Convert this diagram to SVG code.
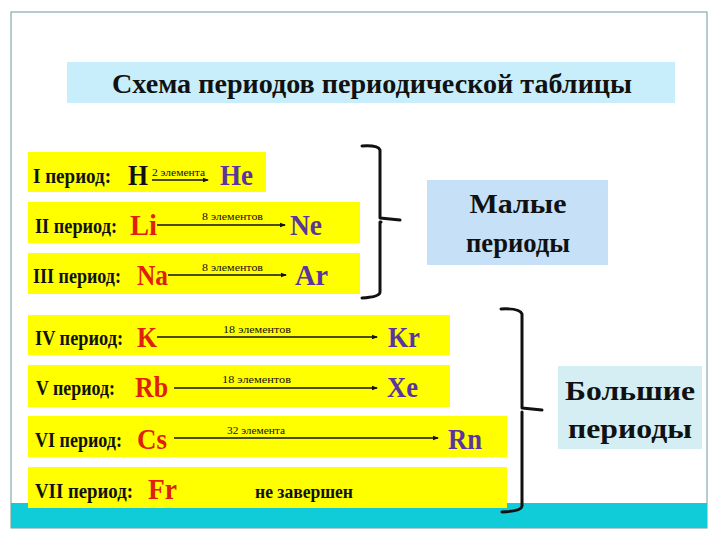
<svg xmlns="http://www.w3.org/2000/svg" width="720" height="540" viewBox="0 0 720 540">
<defs>
<style>
.t{font-family:"Liberation Serif","Times New Roman",serif;font-weight:bold}
.row{fill:#ffff00}
.lbl{font-size:20px;fill:#111}
.sym{font-size:30px}
.red{fill:#e0200e}
.pur{fill:#5a34a0}
.blk{fill:#111}
.sm{font-size:10px;fill:#111;font-weight:normal}
.ln{stroke:#111;stroke-width:1.5;fill:none}
.br{stroke:#111;stroke-width:3;fill:none;stroke-linecap:round;stroke-linejoin:round}
.box{font-size:28px;fill:#111}
</style>
<marker id="ah" markerWidth="6" markerHeight="6" refX="5" refY="3" orient="auto" markerUnits="userSpaceOnUse">
<path d="M0,0.8 L6,3 L0,5.2 Z" fill="#111"/>
</marker>
</defs>
<rect x="0" y="0" width="720" height="540" fill="#ffffff"/>
<rect x="11" y="12" width="696" height="516" fill="#ffffff" stroke="#6f9a9a" stroke-width="1"/>
<rect id="teal" x="11" y="503" width="696" height="25" fill="#10ccd8"/>

<g id="title">
<rect x="67" y="62" width="608" height="41" fill="#c8eefb"/>
<text class="t" x="112" y="93" font-size="28" fill="#111" textLength="520" lengthAdjust="spacingAndGlyphs">Схема периодов периодической таблицы</text>
</g>

<g id="period1">
<rect class="row" x="28" y="152" width="238" height="40"/>
<text class="t lbl" x="33" y="183" textLength="78" lengthAdjust="spacingAndGlyphs">I период:</text>
<text class="t sym blk" x="128" y="185" textLength="20" lengthAdjust="spacingAndGlyphs">H</text>
<text class="t sm" x="152" y="176" textLength="53" lengthAdjust="spacingAndGlyphs">2 элемента</text>
<text class="t sym pur" x="220" y="185" textLength="33" lengthAdjust="spacingAndGlyphs">He</text>
</g>

<g id="period2">
<rect class="row" x="28" y="202" width="332" height="41"/>
<text class="t lbl" x="35" y="233" textLength="82" lengthAdjust="spacingAndGlyphs">II период:</text>
<text class="t sym red" x="130" y="235" textLength="27" lengthAdjust="spacingAndGlyphs">Li</text>
<text class="t sm" x="202" y="220" textLength="61" lengthAdjust="spacingAndGlyphs">8 элементов</text>
<text class="t sym pur" x="290" y="235" textLength="32" lengthAdjust="spacingAndGlyphs">Ne</text>
</g>

<g id="period3">
<rect class="row" x="28" y="253" width="332" height="41"/>
<text class="t lbl" x="33" y="283" textLength="88" lengthAdjust="spacingAndGlyphs">III период:</text>
<text class="t sym red" x="137" y="285" textLength="31" lengthAdjust="spacingAndGlyphs">Na</text>
<text class="t sm" x="202" y="271" textLength="61" lengthAdjust="spacingAndGlyphs">8 элементов</text>
<text class="t sym pur" x="295" y="285" textLength="33" lengthAdjust="spacingAndGlyphs">Ar</text>
</g>

<g id="small-periods">
<rect x="427" y="180" width="181" height="85" fill="#c6e0f8"/>
<text class="t box" x="518" y="213" text-anchor="middle" textLength="97" lengthAdjust="spacingAndGlyphs">Малые</text>
<text class="t box" x="518" y="252" text-anchor="middle" textLength="104" lengthAdjust="spacingAndGlyphs">периоды</text>
</g>

<g id="period4">
<rect class="row" x="28" y="315" width="422" height="40"/>
<text class="t lbl" x="35" y="345" textLength="88" lengthAdjust="spacingAndGlyphs">IV период:</text>
<text class="t sym red" x="137" y="347" textLength="20" lengthAdjust="spacingAndGlyphs">K</text>
<text class="t sm" x="223" y="333" textLength="68" lengthAdjust="spacingAndGlyphs">18  элементов</text>
<text class="t sym pur" x="388" y="347" textLength="32" lengthAdjust="spacingAndGlyphs">Kr</text>
</g>

<g id="period5">
<rect class="row" x="28" y="365" width="422" height="42"/>
<text class="t lbl" x="36" y="395" textLength="79" lengthAdjust="spacingAndGlyphs">V период:</text>
<text class="t sym red" x="135" y="397" textLength="33" lengthAdjust="spacingAndGlyphs">Rb</text>
<text class="t sm" x="222" y="383" textLength="69" lengthAdjust="spacingAndGlyphs">18  элементов</text>
<text class="t sym pur" x="387" y="397" textLength="31" lengthAdjust="spacingAndGlyphs">Xe</text>
</g>

<g id="period6">
<rect class="row" x="28" y="416" width="479" height="41"/>
<text class="t lbl" x="35" y="447" textLength="87" lengthAdjust="spacingAndGlyphs">VI период:</text>
<text class="t sym red" x="137" y="449" textLength="30" lengthAdjust="spacingAndGlyphs">Cs</text>
<text class="t sm" x="227" y="434" textLength="58" lengthAdjust="spacingAndGlyphs">32 элемента</text>
<text class="t sym pur" x="448" y="449" textLength="34" lengthAdjust="spacingAndGlyphs">Rn</text>
</g>

<g id="period7">
<rect class="row" x="28" y="467" width="479" height="41"/>
<text class="t lbl" x="35" y="498" textLength="98" lengthAdjust="spacingAndGlyphs">VII  период:</text>
<text class="t sym red" x="148" y="499" textLength="29" lengthAdjust="spacingAndGlyphs">Fr</text>
<text class="t" x="255" y="498" font-size="18" fill="#111" textLength="98" lengthAdjust="spacingAndGlyphs">не завершен</text>
</g>

<g id="large-periods">
<rect x="558" y="366" width="144" height="83" fill="#d4eef4"/>
<text class="t box" x="630" y="400" text-anchor="middle" textLength="130" lengthAdjust="spacingAndGlyphs">Большие</text>
<text class="t box" x="630" y="438" text-anchor="middle" textLength="124" lengthAdjust="spacingAndGlyphs">периоды</text>
</g>

<g id="connectors">
<line class="ln" x1="152" y1="180" x2="208" y2="180" stroke-width="1" marker-end="url(#ah)"/>
<line class="ln" x1="157" y1="225" x2="285" y2="225" marker-end="url(#ah)"/>
<line class="ln" x1="168" y1="275" x2="286" y2="275" marker-end="url(#ah)"/>
<line class="ln" x1="157" y1="337" x2="377" y2="337" marker-end="url(#ah)"/>
<line class="ln" x1="174" y1="388" x2="377" y2="388" marker-end="url(#ah)"/>
<line class="ln" x1="174" y1="438" x2="438" y2="438" marker-end="url(#ah)"/>
<path class="br" d="M362,146 Q378,145 380,150 L380,218 L400,220 M381,222 L380,222 L380,292 Q380,297 362,298"/>
<path class="br" d="M501,309 Q520,308 522,314 L522,408 L542,410 M522,412 L522,506 Q522,511 502,512"/>
</g>
</svg>
